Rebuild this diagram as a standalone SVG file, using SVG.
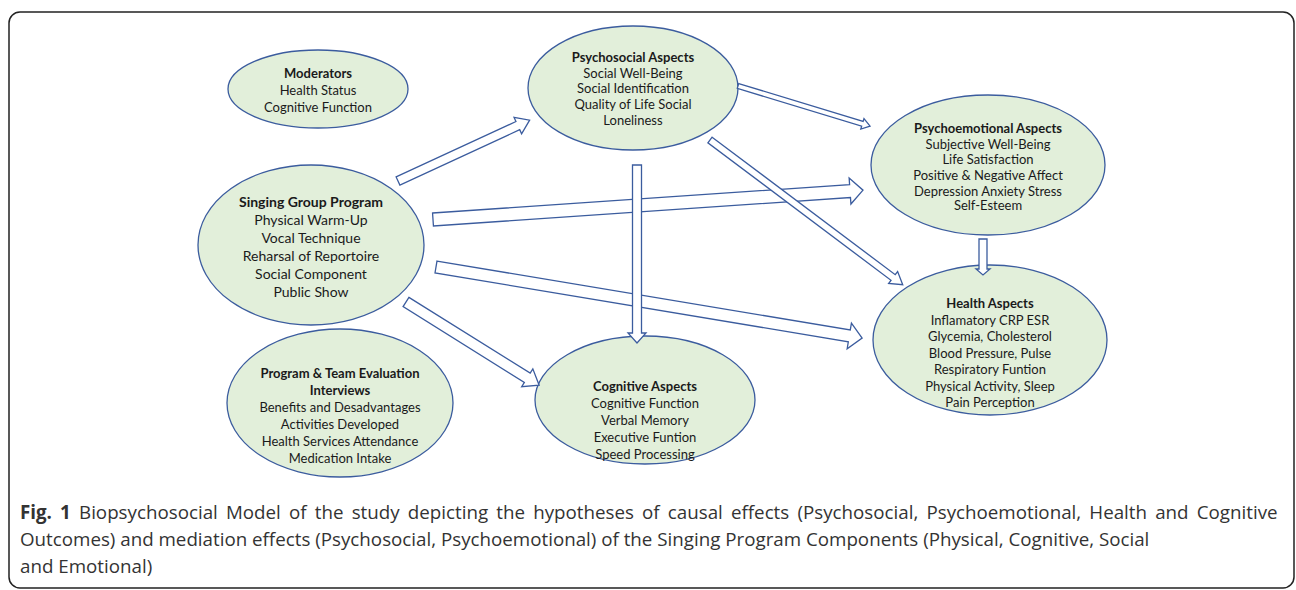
<svg xmlns="http://www.w3.org/2000/svg" width="1296" height="590" viewBox="0 0 1296 590">
<style>
.node ellipse{fill:#e2efda;stroke:#3b5c9e;stroke-width:1.3}
.node text{font-family:Lato,"Liberation Sans",sans-serif;font-size:13px;fill:#1a1a1a;text-anchor:middle}
.node .t{font-weight:bold}
.big text{font-size:14px}
#connectors path{fill:#fff;stroke:#3b5c9e;stroke-width:1.3;stroke-linejoin:miter}
.cap{font-family:"Open Sans","Liberation Sans",sans-serif;font-size:18.75px;fill:#333}
</style>
<rect x="9" y="12" width="1285" height="576" rx="11" fill="#fff" stroke="#222" stroke-width="1.5"/>
<g id="moderators" class="node">
<ellipse cx="318" cy="89" rx="90" ry="39"/>
<text x="318" y="78" class="t">Moderators</text>
<text x="318" y="95">Health Status</text>
<text x="318" y="112">Cognitive Function</text>
</g>
<g id="psychosocial" class="node">
<ellipse cx="633" cy="88" rx="105" ry="62"/>
<text x="633" y="62" class="t">Psychosocial Aspects</text>
<text x="633" y="78">Social Well-Being</text>
<text x="633" y="93">Social Identification</text>
<text x="633" y="109">Quality of Life Social</text>
<text x="633" y="125">Loneliness</text>
</g>
<g id="psychoemotional" class="node">
<ellipse cx="988" cy="165" rx="117" ry="70"/>
<text x="988" y="133" class="t">Psychoemotional Aspects</text>
<text x="988" y="149">Subjective Well-Being</text>
<text x="988" y="164">Life Satisfaction</text>
<text x="988" y="180">Positive &amp; Negative Affect</text>
<text x="988" y="196">Depression Anxiety Stress</text>
<text x="988" y="210">Self-Esteem</text>
</g>
<g id="singing" class="node big">
<ellipse cx="311" cy="245" rx="113" ry="80"/>
<text x="311" y="207" class="t">Singing Group Program</text>
<text x="311" y="225">Physical Warm-Up</text>
<text x="311" y="243">Vocal Technique</text>
<text x="311" y="261">Reharsal of Reportoire</text>
<text x="311" y="279">Social Component</text>
<text x="311" y="297">Public Show</text>
</g>
<g id="health" class="node">
<ellipse cx="990" cy="340" rx="117" ry="75"/>
<text x="990" y="308" class="t">Health Aspects</text>
<text x="990" y="325">Inflamatory CRP ESR</text>
<text x="990" y="341">Glycemia, Cholesterol</text>
<text x="990" y="358">Blood Pressure, Pulse</text>
<text x="990" y="374">Respiratory Funtion</text>
<text x="990" y="391">Physical Activity, Sleep</text>
<text x="990" y="407">Pain Perception</text>
</g>
<g id="cognitive" class="node">
<ellipse cx="645" cy="400" rx="110" ry="64"/>
<text x="645" y="391" class="t">Cognitive Aspects</text>
<text x="645" y="408">Cognitive Function</text>
<text x="645" y="425">Verbal Memory</text>
<text x="645" y="442">Executive Funtion</text>
<text x="645" y="459">Speed Processing</text>
</g>
<g id="program" class="node">
<ellipse cx="340" cy="403" rx="113" ry="74"/>
<text x="340" y="378" class="t">Program &amp; Team Evaluation</text>
<text x="340" y="395" class="t">Interviews</text>
<text x="340" y="412">Benefits and Desadvantages</text>
<text x="340" y="429">Activities Developed</text>
<text x="340" y="446">Health Services Attendance</text>
<text x="340" y="463">Medication Intake</text>
</g>
<g id="connectors">
<path transform="translate(398,181) rotate(-24.8)" d="M0,-4.5 H132 V-9 L145,0 L132,9 V4.5 H0 Z"/>
<path transform="translate(738,86) rotate(16.9)" d="M0,-2.5 H130 V-5.5 L138,0 L130,5.5 V2.5 H0 Z"/>
<path transform="translate(433,219.5) rotate(-3.9)" d="M0,-6.5 H418 V-13 L431,0 L418,13 V6.5 H0 Z"/>
<path transform="translate(436,267) rotate(9.46)" d="M0,-6 H419 V-13 L432,0 L419,13 V6 H0 Z"/>
<path transform="translate(710,140) rotate(36.9)" d="M0,-3.5 H229 V-7.5 L241,0 L229,7.5 V3.5 H0 Z"/>
<path transform="translate(637,165) rotate(90)" d="M0,-4.5 H168 V-9 L178,0 L168,9 V4.5 H0 Z"/>
<path transform="translate(406,302) rotate(32)" d="M0,-5.5 H143 V-10.5 L157,0 L143,10.5 V5.5 H0 Z"/>
<path transform="translate(983,239) rotate(90)" d="M0,-4 H30 V-7 L36,0 L30,7 V4 H0 Z"/>
</g>
<text class="cap" x="20" y="519" word-spacing="3.3"><tspan font-weight="bold">Fig. 1</tspan> Biopsychosocial Model of the study depicting the hypotheses of causal effects (Psychosocial, Psychoemotional, Health and Cognitive</text>
<text class="cap" x="20" y="546">Outcomes) and mediation effects (Psychosocial, Psychoemotional) of the Singing Program Components (Physical, Cognitive, Social</text>
<text class="cap" x="20" y="573">and Emotional)</text>
</svg>
